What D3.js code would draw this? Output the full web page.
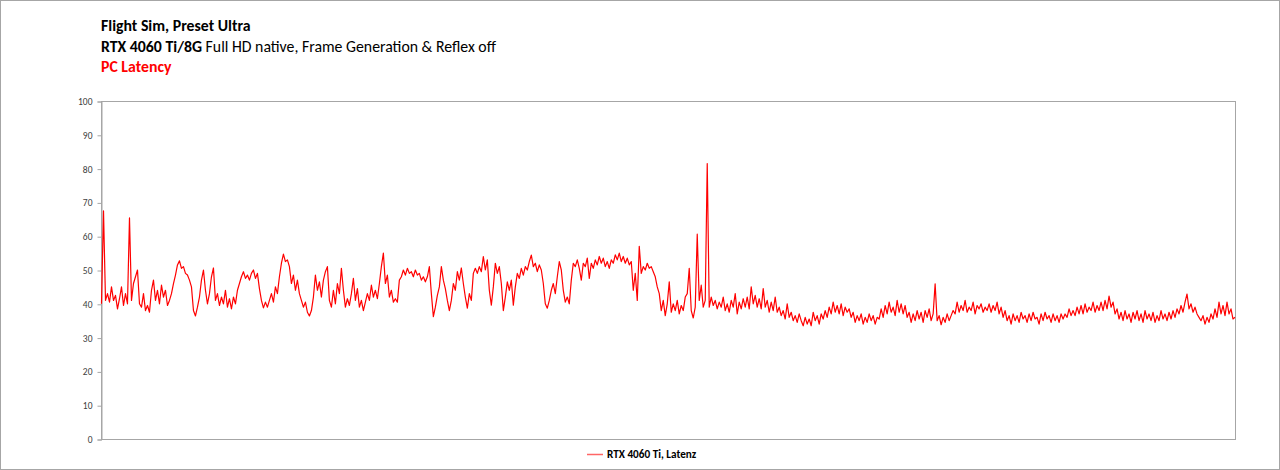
<!DOCTYPE html>
<html>
<head>
<meta charset="utf-8">
<script src="https://cdn.jsdelivr.net/npm/d3@7"></script>
<style>
  body { margin: 0; background: #fff; }
  svg { display: block; }
</style>
</head>
<body>
<div id="chart"></div>
<script>
// Titles
const titleLine1 = "Flight Sim, Preset Ultra";
const titleLine2Bold = "RTX 4060 Ti/8G";
const titleLine2Rest = " Full HD native, Frame Generation & Reflex off";
const titleLine3 = "PC Latency";
const seriesName = "RTX 4060 Ti, Latenz";

// Y axis ticks
const yTicks = [0, 10, 20, 30, 40, 50, 60, 70, 80, 90, 100];

// Latency samples (ms), left to right
const latencyA = [
  40, 67.5, 41, 43, 40.5, 45, 41, 42.5, 38.5, 41.5, 45, 39.5, 43, 40, 65.4, 41, 46, 48, 50, 40, 39, 43, 38, 39.5, 37.5,
  44, 47, 41, 44, 40, 45.5, 42, 44, 39.5, 41, 43, 46, 48.5, 51.5, 52.7, 50.5, 51, 49, 48.5, 47, 45, 38, 36.4, 39, 42,
  47, 50, 44, 40, 43, 48, 50.6, 41, 43, 39.5, 42, 40, 44, 39, 41.5, 38.5, 42, 40, 44, 46, 48, 49.5, 47.5, 48.5, 47,
  49, 50, 47.5, 49, 44.5, 41, 38.8, 40.5, 39, 41, 43, 40.5, 45, 43, 48, 52, 54.7, 52.5, 53, 51, 46, 48.5, 44, 47, 43
];
const latencyB = [
  41, 39, 40.5, 37.5, 36.4, 38, 42, 48.5, 44, 46.5, 42, 47, 49.5, 51, 41, 39, 44, 40, 46, 43, 50.5, 44, 39, 41.5, 39.5,
  43, 47.5, 41, 44.5, 39, 41, 38, 40.5, 43, 41, 45.5, 42, 44, 41.5, 46, 51, 55, 46, 48.5, 42, 44, 40.5, 41.5, 40.5, 47,
  48, 50, 48.5, 50.5, 49, 49.5, 48, 50, 48.5, 49, 47, 48, 46.5, 48, 51, 43, 36.2, 39, 42.5, 45, 51, 47, 44.5, 41, 38,
  41, 46, 44, 49.5, 47, 50.6, 46, 42, 38.7, 43, 41, 49, 50.5, 49, 51, 49.5, 54, 50, 53, 44, 39.6, 45, 52, 49, 51
];
const latencyC = [
  46, 38, 42, 46.5, 44, 47, 39.6, 45, 49, 47.5, 50.5, 48.5, 51, 50, 52.5, 54.4, 51, 52, 49.5, 51.5, 50, 46, 40, 38.7, 41,
  44, 46, 43, 48, 52.5, 50, 44, 40.5, 42, 40, 47, 52, 51, 53, 50.5, 47, 52, 51, 53.5, 47.5, 52, 50.5, 53, 51.5, 54,
  52, 53.5, 51, 52.5, 50.5, 53, 52, 54.5, 53, 55, 52.5, 54, 52, 53.5, 51.5, 52.5, 44, 49, 41, 57, 49, 51, 50, 52, 50.5,
  51, 49.5, 48, 45, 43, 38, 41, 36.5, 40, 46.5, 37.5, 40, 38, 41, 37, 39.5, 38, 42, 43, 50.5, 38, 35.8, 39, 60.6, 41
];
const latencyD = [
  45.5, 39, 41, 81.5, 39, 42, 39.5, 41, 38.5, 40.5, 39, 42, 38, 40, 37.5, 41, 39, 43, 37, 40.5, 38.5, 41.5, 39, 42, 38.5,
  45, 40, 42.5, 39, 41.5, 38.5, 44.5, 39, 41, 37.5, 40.5, 38, 42, 37.5, 39, 36.5, 38, 35.5, 40, 36, 37.5, 35, 36.5, 34.5, 37,
  35, 33.5, 36, 34, 35.5, 33.5, 37.5, 35, 36.5, 34, 37, 35.5, 38, 36, 39, 37, 40.5, 37.5, 39.5, 37, 40, 36.5, 39, 37.5, 38.5,
  36, 37.5, 34.5, 36.5, 35, 37, 34, 36, 34.5, 37, 35, 36.5, 34, 36, 35.5, 38.5, 36, 39.5, 37, 40.5, 37.5, 39, 36.5, 41, 37.5
];
const latencyE = [
  40, 37, 39.5, 36, 37.5, 34.5, 37, 35, 38, 35.5, 37.5, 34.5, 38, 36, 38.5, 35, 37, 45.9, 35, 36.5, 33.8, 36, 34.5, 37, 35,
  36.5, 38, 37, 40.5, 37.5, 39.5, 38, 41, 37.5, 39, 38, 40.5, 37, 39.5, 38.5, 40, 37.5, 39, 38, 40, 37.5, 39.5, 38, 40.5, 37,
  39, 36, 38, 35, 36.5, 34, 37, 35, 36.5, 34.5, 37.5, 35.5, 36.5, 34.5, 37, 35, 37.5, 35.5, 36, 34, 37, 35, 37.5, 35.5, 36.5,
  34.5, 37, 35, 36.5, 34.5, 37, 35.5, 37, 36, 38.5, 36.5, 38, 36.5, 39, 37, 39.5, 37, 40, 37.5, 39, 38, 40.5, 37.5, 39.5, 38
];
const latencyF = [
  40.5, 38, 41, 38.5, 42.3, 39, 40.5, 37, 38.5, 35.5, 37.5, 35, 38, 35.5, 37, 34.5, 37.5, 35.5, 38, 35, 37, 34.5, 38, 35.5, 37,
  35, 37.5, 34.5, 36.5, 35, 38, 35.5, 37, 35, 37.5, 35.5, 38, 36, 38.5, 37, 39.5, 37.5, 40.5, 42.9, 38.5, 40, 37.5, 39, 37, 36,
  35, 36.5, 34, 36, 34.5, 37, 35.5, 38.5, 36, 40.5, 37, 39.5, 36.5, 40.5, 37, 38.5, 35.5, 36
];

const latency = [].concat(latencyA, latencyB, latencyC, latencyD, latencyE, latencyF);

// Layout
const width = 1280;
const height = 470;
const plot = { left: 101, top: 101, right: 1235, bottom: 439 };
const fontFamily = "Carlito, Calibri, Lato, 'Open Sans', sans-serif";

const svg = d3.select("#chart")
  .append("svg")
  .attr("width", width)
  .attr("height", height);

// Outer border
svg.append("rect")
  .attr("x", 0.5)
  .attr("y", 0.5)
  .attr("width", width - 1)
  .attr("height", height - 1)
  .attr("fill", "#fff")
  .attr("stroke", "#a6a6a6");

// Titles
const titles = svg.append("g")
  .attr("font-family", fontFamily)
  .attr("font-size", "15.8px");

titles.append("text")
  .attr("x", 101)
  .attr("y", 31)
  .attr("font-weight", "bold")
  .attr("fill", "#000")
  .text(titleLine1);

let line2 = titles.append("text")
  .attr("x", 101)
  .attr("y", 52)
  .attr("fill", "#000");
line2.append("tspan").attr("font-weight", "bold").text(titleLine2Bold);
line2.append("tspan").text(titleLine2Rest);

titles.append("text")
  .attr("x", 101)
  .attr("y", 72)
  .attr("font-weight", "bold")
  .attr("fill", "#ff0000")
  .text(titleLine3);

// Scales
const x = d3.scaleLinear()
  .domain([0, latency.length - 1])
  .range([plot.left + 0.5, plot.right]);

const y = d3.scaleLinear()
  .domain([0, 100])
  .range([plot.bottom, plot.top]);

// Plot frame
svg.append("rect")
  .attr("x", plot.left + 0.5)
  .attr("y", plot.top + 0.5)
  .attr("width", plot.right - plot.left)
  .attr("height", plot.bottom - plot.top)
  .attr("fill", "none")
  .attr("stroke", "#a6a6a6");

// Y axis
const yAxis = svg.append("g")
  .attr("transform", "translate(" + (plot.left + 0.5) + ",0.5)")
  .call(d3.axisLeft(y).tickValues(yTicks).tickSize(4).tickPadding(5));

yAxis.select(".domain").attr("stroke", "#a6a6a6");
yAxis.selectAll(".tick line").attr("stroke", "#a6a6a6");
yAxis.selectAll(".tick text")
  .attr("fill", "#404040")
  .attr("font-family", fontFamily)
  .attr("font-size", "9.5px");

// Line
const line = d3.line()
  .x((d, i) => x(i))
  .y(d => y(d));

svg.append("path")
  .datum(latency)
  .attr("fill", "none")
  .attr("stroke", "#ff0000")
  .attr("stroke-width", 1.2)
  .attr("stroke-linejoin", "round")
  .attr("d", line);

// Legend
const legend = svg.append("g")
  .attr("transform", "translate(587,454)");

legend.append("line")
  .attr("x1", 0)
  .attr("x2", 16)
  .attr("y1", 0.5)
  .attr("y2", 0.5)
  .attr("stroke", "#ff6666")
  .attr("stroke-width", 1.5);

legend.append("text")
  .attr("x", 20)
  .attr("y", 4)
  .attr("font-family", fontFamily)
  .attr("font-size", "11.2px")
  .attr("font-weight", "bold")
  .attr("fill", "#000")
  .text(seriesName);
</script>
</body>
</html>
